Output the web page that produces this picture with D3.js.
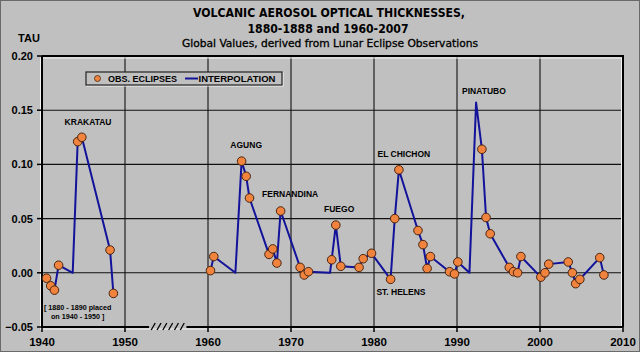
<!DOCTYPE html>
<html>
<head>
<meta charset="utf-8">
<script src="https://cdn.jsdelivr.net/npm/d3@7/dist/d3.min.js"></script>
<style>
body { margin: 0; background: #c0c0c0; }
svg { display: block; }
</style>
</head>
<body>
<script>
// lunar eclipse observations (1880s shifted onto 1940-1950)
const obsYears = [1940.55, 1941.05, 1941.5, 1942.0, 1944.3, 1944.8, 1948.2, 1948.6,
	1960.3, 1960.7, 1964.05, 1964.6, 1965.0, 1967.35, 1967.8, 1968.3, 1968.75,
	1971.1, 1971.6, 1972.1, 1974.9, 1975.4, 1976.0, 1978.2, 1978.7, 1979.7,
	1982.0, 1982.5, 1983.0, 1985.3, 1985.9, 1986.4, 1986.8, 1989.1, 1989.7, 1990.1,
	1993.0, 1993.5, 1994.0, 1996.3, 1996.8, 1997.3, 1997.7, 2000.1, 2000.6, 2001.05,
	2003.4, 2003.9, 2004.3, 2004.8, 2007.2, 2007.7];
const obsTau = [-0.005, -0.012, -0.016, 0.007, 0.121, 0.125, 0.021, -0.019,
	0.002, 0.015, 0.103, 0.089, 0.069, 0.017, 0.022, 0.009, 0.057,
	0.005, -0.002, 0.001, 0.012, 0.044, 0.006, 0.005, 0.013, 0.018,
	-0.006, 0.050, 0.095, 0.039, 0.026, 0.004, 0.015, 0.001, -0.001, 0.010,
	0.114, 0.051, 0.036, 0.005, 0.001, 0.000, 0.015, -0.004, 0.000, 0.008,
	0.010, 0.000, -0.010, -0.006, 0.014, -0.002];

// extra nodes of the interpolation line (no observation)
const interpYears = [1943.7, 1963.3, 1974.7, 1991.5, 1992.3];
const interpTau = [0, 0, 0, 0, 0.157];

const volcanoNames = ['KRAKATAU', 'AGUNG', 'FERNANDINA', 'FUEGO', 'EL CHICHON', 'ST. HELENS', 'PINATUBO'];
const volcanoYears = [1945.55, 1964.6, 1969.9, 1975.8, 1983.6, 1983.25, 1993.25];
const volcanoTau = [0.136, 0.1155, 0.0695, 0.0565, 0.1068, -0.0205, 0.1654];

const xTicks = [1940, 1950, 1960, 1970, 1980, 1990, 2000, 2010];
const yTicks = [-0.05, 0, 0.05, 0.10, 0.15, 0.20];
const breakYears = [1953.4, 1954.1, 1954.8, 1955.5, 1956.2, 1956.9];

const W = 640, H = 352;
const svg = d3.select('body').append('svg').attr('width', W).attr('height', H);

svg.append('rect').attr('x', 0.5).attr('y', 0.5).attr('width', W - 1).attr('height', H - 1)
	.attr('fill', '#c0c0c0').attr('stroke', '#6a6a6a');

const x = d3.scaleLinear().domain([1940, 2010]).range([42, 623]);
const y = d3.scaleLinear().domain([-0.05, 0.20]).range([327, 56]);

// titles
const title = svg.append('g').attr('text-anchor', 'middle')
	.style('font-family', '"DejaVu Sans Condensed", "DejaVu Sans", sans-serif');
title.append('text').attr('x', 329).attr('y', 17).attr('font-size', 13).attr('font-weight', 'bold')
	.attr('textLength', 272).attr('lengthAdjust', 'spacingAndGlyphs')
	.text('VOLCANIC AEROSOL OPTICAL THICKNESSES,');
title.append('text').attr('x', 328).attr('y', 32.5).attr('font-size', 13).attr('font-weight', 'bold')
	.attr('textLength', 161).attr('lengthAdjust', 'spacingAndGlyphs')
	.text('1880-1888 and 1960-2007');
title.append('text').attr('x', 330).attr('y', 47).attr('font-size', 11)
	.attr('textLength', 296).attr('lengthAdjust', 'spacingAndGlyphs')
	.attr('stroke', '#000').attr('stroke-width', 0.3)
	.text('Global Values, derived from Lunar Eclipse Observations');

const bold = 'Liberation Sans, Arial, sans-serif';

svg.append('text').attr('x', 29).attr('y', 42).attr('text-anchor', 'middle')
	.style('font-family', bold).style('font-weight', 'bold').style('font-size', '11px')
	.text('TAU');

// grid
const grid = svg.append('g').attr('stroke', '#111').attr('stroke-width', 1.1);
grid.selectAll('.vgrid')
	.data(xTicks.slice(1, -1))
	.join('line')
	.attr('class', 'vgrid')
	.attr('x1', d => x(d)).attr('x2', d => x(d))
	.attr('y1', y(0.20)).attr('y2', y(-0.05));
grid.selectAll('.hgrid')
	.data(yTicks.slice(1, -1))
	.join('line')
	.attr('class', 'hgrid')
	.attr('x1', x(1940)).attr('x2', x(2010))
	.attr('y1', d => y(d)).attr('y2', d => y(d));

// plot frame: white shadow then black border
svg.append('rect').attr('x', x(1940) - 1.5).attr('y', y(0.20) + 2)
	.attr('width', x(2010) - x(1940)).attr('height', y(-0.05) - y(0.20))
	.attr('fill', 'none').attr('stroke', '#f4f4f4').attr('stroke-width', 1);
svg.append('path')
	.attr('d', `M${x(1940)},${y(0.20)}H${x(2010)}V${y(-0.05)}`)
	.attr('fill', 'none').attr('stroke', '#000').attr('stroke-width', 2);
svg.append('line')
	.attr('x1', x(1940)).attr('x2', x(1940)).attr('y1', y(0.20)).attr('y2', y(-0.05) + 1)
	.attr('stroke', '#000').attr('stroke-width', 2);

// x axis with a break between 1950 and 1960
const axisSegs = [[1940, breakYears[0] - 0.5], [breakYears[breakYears.length - 1] + 0.5, 2010]];
svg.selectAll('.xaxis')
	.data(axisSegs)
	.join('line')
	.attr('class', 'xaxis')
	.attr('x1', d => x(d[0])).attr('x2', d => x(d[1]))
	.attr('y1', y(-0.05)).attr('y2', y(-0.05))
	.attr('stroke', '#000').attr('stroke-width', 2);
svg.selectAll('.slash')
	.data(breakYears)
	.join('line')
	.attr('class', 'slash')
	.attr('x1', d => x(d) - 2).attr('x2', d => x(d) + 2)
	.attr('y1', y(-0.05) + 3).attr('y2', y(-0.05) - 4)
	.attr('stroke', '#000').attr('stroke-width', 1.3);

svg.selectAll('.xtick')
	.data(xTicks)
	.join('line')
	.attr('class', 'xtick')
	.attr('x1', d => x(d)).attr('x2', d => x(d))
	.attr('y1', y(-0.05)).attr('y2', y(-0.05) + 5)
	.attr('stroke', '#000').attr('stroke-width', 1.5);
svg.selectAll('.xlabel')
	.data(xTicks)
	.join('text')
	.attr('class', 'xlabel')
	.attr('x', d => x(d)).attr('y', 346)
	.attr('text-anchor', 'middle')
	.style('font-family', bold).style('font-weight', 'bold').style('font-size', '11.5px')
	.text(d => d);

svg.selectAll('.ytick')
	.data(yTicks)
	.join('line')
	.attr('class', 'ytick')
	.attr('x1', x(1940) - 5).attr('x2', x(1940))
	.attr('y1', d => y(d)).attr('y2', d => y(d))
	.attr('stroke', '#000').attr('stroke-width', 1.5);
svg.selectAll('.ylabel')
	.data(yTicks)
	.join('text')
	.attr('class', 'ylabel')
	.attr('x', 33).attr('y', d => y(d) + 4)
	.attr('text-anchor', 'end')
	.style('font-family', bold).style('font-weight', 'bold').style('font-size', '11px')
	.text(d => d3.format('.2f')(d));

// interpolation line = observations + extra nodes, split at the break
const obs = obsYears.map((yr, i) => ({year: yr, tau: obsTau[i]}));
const nodes = obs.concat(interpYears.map((yr, i) => ({year: yr, tau: interpTau[i]})))
	.sort((a, b) => a.year - b.year);
const segments = [nodes.filter(d => d.year < 1950), nodes.filter(d => d.year > 1960)];

const line = d3.line().x(d => x(d.year)).y(d => y(d.tau));
svg.selectAll('.interp')
	.data(segments)
	.join('path')
	.attr('class', 'interp')
	.attr('d', line)
	.attr('fill', 'none')
	.attr('stroke', '#12129a')
	.attr('stroke-width', 2)
	.attr('stroke-linejoin', 'round');

svg.selectAll('.obs')
	.data(obs)
	.join('circle')
	.attr('class', 'obs')
	.attr('cx', d => x(d.year)).attr('cy', d => y(d.tau))
	.attr('r', 4.3)
	.attr('fill', '#f0843e')
	.attr('stroke', '#4a2410')
	.attr('stroke-width', 1);

// volcano names
svg.selectAll('.volcano')
	.data(volcanoNames)
	.join('text')
	.attr('class', 'volcano')
	.attr('x', (d, i) => x(volcanoYears[i]))
	.attr('y', (d, i) => y(volcanoTau[i]))
	.attr('text-anchor', 'middle')
	.style('font-family', bold).style('font-weight', 'bold').style('font-size', '8.5px')
	.text(d => d);

const note = svg.append('g').attr('text-anchor', 'middle')
	.style('font-family', bold).style('font-weight', 'bold').style('font-size', '7.2px');
note.append('text').attr('x', x(1944.3)).attr('y', y(-0.0343)).text('[ 1880 - 1890 placed');
note.append('text').attr('x', x(1944.3)).attr('y', y(-0.0426)).text('on 1940 - 1950 ]');

// legend
const lg = svg.append('g').attr('transform', 'translate(86,72)');
lg.append('rect').attr('x', 1).attr('y', 1).attr('width', 196).attr('height', 13)
	.attr('fill', 'none').attr('stroke', '#f4f4f4');
lg.append('rect').attr('width', 196).attr('height', 13)
	.attr('fill', '#c0c0c0').attr('stroke', '#222').attr('stroke-width', 1.2);
lg.append('circle').attr('cx', 11.5).attr('cy', 6.5).attr('r', 3)
	.attr('fill', '#f0843e').attr('stroke', '#4a2410').attr('stroke-width', 0.8);
lg.append('text').attr('x', 22).attr('y', 10).style('font-family', bold)
	.style('font-weight', 'bold').style('font-size', '9px').text('OBS. ECLIPSES');
lg.append('line').attr('x1', 99).attr('x2', 112).attr('y1', 6.5).attr('y2', 6.5)
	.attr('stroke', '#12129a').attr('stroke-width', 2);
lg.append('text').attr('x', 112.5).attr('y', 10).style('font-family', bold)
	.style('font-weight', 'bold').style('font-size', '9.5px').text('INTERPOLATION');
</script>
</body>
</html>
